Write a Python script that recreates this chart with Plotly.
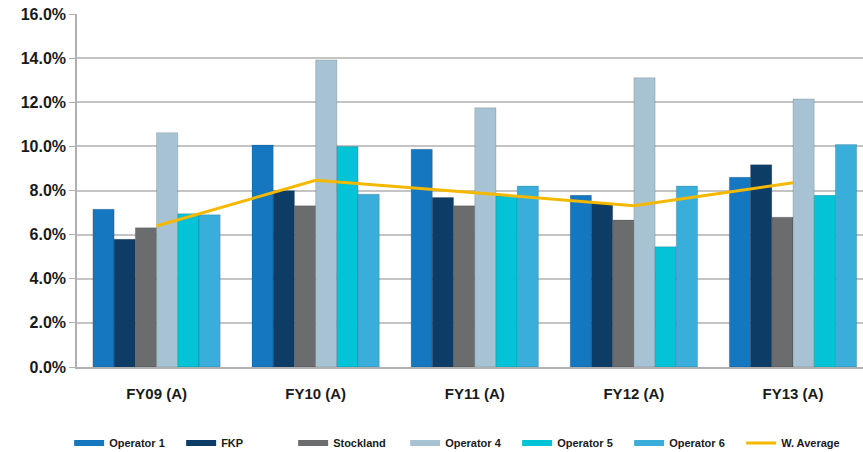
import plotly.graph_objects as go

categories = ["FY09 (A)", "FY10 (A)", "FY11 (A)", "FY12 (A)", "FY13 (A)"]
operator1 = [7.15, 10.06, 9.87, 7.78, 8.60]
fkp = [5.79, 7.99, 7.68, 7.42, 9.17]
stockland = [6.31, 7.31, 7.31, 6.66, 6.79]
operator4 = [10.62, 13.92, 11.75, 13.11, 12.15]
operator5 = [6.95, 9.99, 7.75, 5.45, 7.78]
operator6 = [6.90, 7.83, 8.20, 8.20, 10.08]
w_average = [6.39, 8.46, 7.90, 7.31, 8.35]

series = [
    ("Operator 1", operator1, "#1577c0"),
    ("FKP", fkp, "#0d3d66"),
    ("Stockland", stockland, "#6b6c6e"),
    ("Operator 4", operator4, "#a7c3d3"),
    ("Operator 5", operator5, "#05c3d6"),
    ("Operator 6", operator6, "#3aaedb"),
]

fig = go.Figure()
for name, vals, col in series:
    fig.add_trace(go.Bar(
        name=name, x=categories, y=[v / 100 for v in vals], showlegend=False,
        marker=dict(color=col, line=dict(color="rgba(0,0,0,0.15)", width=1)),
    ))
fig.add_trace(go.Scatter(
    name="W. Average", x=categories, y=[v / 100 for v in w_average],
    mode="lines", line=dict(color="#f5b800", width=3), showlegend=False,
))
# legend entries: wide rectangle swatches like the original
for name, vals, col in series:
    fig.add_trace(go.Scatter(
        name=name, x=[None], y=[None], mode="lines",
        line=dict(color=col, width=6),
    ))
fig.add_trace(go.Scatter(
    name="W. Average", x=[None], y=[None], mode="lines",
    line=dict(color="#f5b800", width=3),
))

font_family = "Liberation Sans"
fig.update_layout(
    width=863, height=452,
    margin=dict(l=77, r=0, t=14, b=85, autoexpand=False),
    plot_bgcolor="white", paper_bgcolor="white",
    barmode="group", bargap=0.2, bargroupgap=0,
    font=dict(family=font_family, color="#1a1a1a"),
    legend=dict(
        orientation="h", x=-0.01, xanchor="left", y=-0.215, yanchor="middle",
        entrywidth=67, entrywidthmode="pixels",
        font=dict(size=11, family=font_family, color="#1a1a1a", weight="bold"),
        itemwidth=30, tracegroupgap=0,
    ),
    xaxis=dict(
        range=[-0.5, 4.44], showline=True, linecolor="#b0b0b0", linewidth=1.5,
        tickfont=dict(size=15, family=font_family, weight="bold"),
        ticks="", ticklabelstandoff=12,
    ),
    yaxis=dict(
        range=[0, 0.16], dtick=0.02, tickformat=".1%",
        showgrid=True, gridcolor="#c4c4c4", gridwidth=1.5,
        showline=True, linecolor="#b0b0b0", linewidth=1.5,
        ticks="outside", ticklen=6, tickcolor="#b0b0b0",
        tickfont=dict(size=16, family=font_family, weight="bold"),
        zeroline=False,
    ),
)

fig.write_html("out.html")
